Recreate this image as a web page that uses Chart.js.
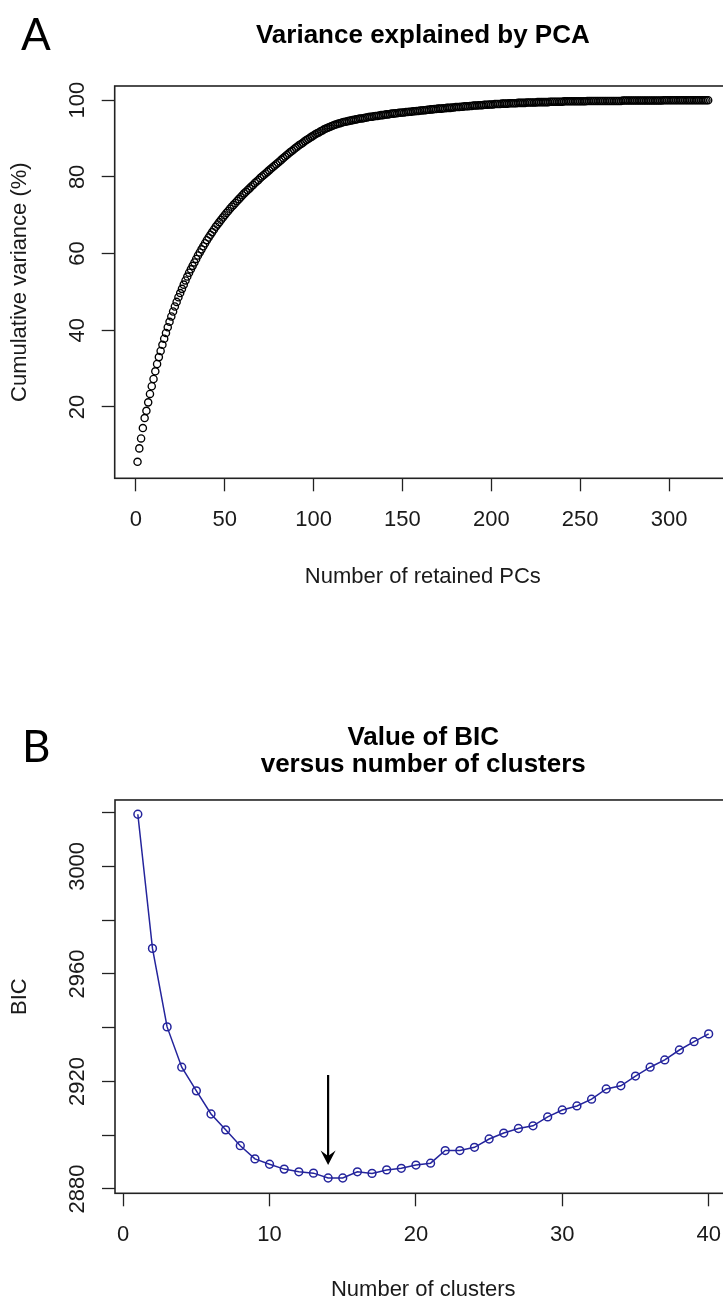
<!DOCTYPE html>
<html>
<head>
<meta charset="utf-8">
<script src="https://cdn.jsdelivr.net/npm/chart.js@4.4.1/dist/chart.umd.min.js"></script>
<style>
  html, body { margin: 0; padding: 0; background: #fff; }
  body { position: relative; width: 723px; height: 1304px; overflow: hidden; }
  canvas { position: absolute; left: 0; }
  .panel-tag { position: absolute; font-family: Lato, "Open Sans", sans-serif; font-size: 44px; line-height: 1; color: #000; }
</style>
</head>
<body>
<canvas id="pca-chart" width="740" height="640" style="top:0"></canvas>
<canvas id="bic-chart" width="740" height="664" style="top:640px"></canvas>
<div class="panel-tag" style="left:21px; top:11px">A</div>
<div class="panel-tag" style="left:22px; top:723px">B</div>
<script>
// ---------- data ----------
// cumulative variance (%) kept by the first k principal components, k = 1..322
const cumVariance = [
  5.7, 9.2, 11.8, 14.5, 17.1, 19.0, 21.2, 23.4, 25.4, 27.3,
  29.3, 31.2, 33.0, 34.6, 36.2, 37.8, 39.3, 40.8, 42.2, 43.6,
  44.9, 46.2, 47.4, 48.6, 49.7, 50.8, 51.9, 53.0, 54.0, 55.0,
  55.9, 56.8, 57.7, 58.6, 59.5, 60.3, 61.1, 61.9, 62.7, 63.5,
  64.2, 64.9, 65.6, 66.3, 67.0, 67.6, 68.2, 68.8, 69.4, 70.0,
  70.6, 71.1, 71.7, 72.2, 72.7, 73.2, 73.7, 74.2, 74.7, 75.2,
  75.7, 76.1, 76.6, 77.0, 77.5, 77.9, 78.4, 78.8, 79.2, 79.7,
  80.1, 80.5, 80.9, 81.3, 81.7, 82.1, 82.5, 82.9, 83.3, 83.7,
  84.1, 84.5, 84.9, 85.3, 85.7, 86.1, 86.5, 86.8, 87.2, 87.6,
  87.9, 88.3, 88.6, 88.9, 89.3, 89.6, 89.9, 90.2, 90.5, 90.8,
  91.1, 91.4, 91.6, 91.9, 92.1, 92.4, 92.6, 92.8, 93.0, 93.2,
  93.4, 93.6, 93.7, 93.9, 94.0, 94.2, 94.3, 94.4, 94.5, 94.6,
  94.7, 94.8, 94.9, 95.0, 95.1, 95.2, 95.2, 95.3, 95.4, 95.5,
  95.6, 95.7, 95.7, 95.8, 95.9, 95.9, 96.0, 96.1, 96.1, 96.2,
  96.3, 96.3, 96.4, 96.5, 96.5, 96.6, 96.6, 96.7, 96.7, 96.8,
  96.8, 96.9, 96.9, 97.0, 97.0, 97.1, 97.1, 97.2, 97.2, 97.3,
  97.3, 97.4, 97.4, 97.5, 97.5, 97.6, 97.6, 97.7, 97.7, 97.8,
  97.8, 97.8, 97.9, 97.9, 98.0, 98.0, 98.0, 98.1, 98.1, 98.2,
  98.2, 98.2, 98.3, 98.3, 98.4, 98.4, 98.4, 98.5, 98.5, 98.6,
  98.6, 98.6, 98.7, 98.7, 98.7, 98.8, 98.8, 98.8, 98.9, 98.9,
  98.9, 99.0, 99.0, 99.0, 99.0, 99.1, 99.1, 99.1, 99.1, 99.2,
  99.2, 99.2, 99.2, 99.2, 99.3, 99.3, 99.3, 99.3, 99.3, 99.4,
  99.4, 99.4, 99.4, 99.4, 99.4, 99.5, 99.5, 99.5, 99.5, 99.5,
  99.5, 99.5, 99.6, 99.6, 99.6, 99.6, 99.6, 99.6, 99.6, 99.6,
  99.7, 99.7, 99.7, 99.7, 99.7, 99.7, 99.7, 99.7, 99.7, 99.7,
  99.7, 99.7, 99.7, 99.8, 99.8, 99.8, 99.8, 99.8, 99.8, 99.8,
  99.8, 99.8, 99.8, 99.8, 99.8, 99.8, 99.8, 99.8, 99.8, 99.8,
  99.8, 99.8, 99.8, 99.9, 99.9, 99.9, 99.9, 99.9, 99.9, 99.9,
  99.9, 99.9, 99.9, 99.9, 99.9, 99.9, 99.9, 99.9, 99.9, 99.9,
  99.9, 99.9, 99.9, 99.9, 99.9, 99.9, 100.0, 100.0, 100.0, 100.0,
  100.0, 100.0, 100.0, 100.0, 100.0, 100.0, 100.0, 100.0, 100.0, 100.0,
  100.0, 100.0, 100.0, 100.0, 100.0, 100.0, 100.0, 100.0, 100.0, 100.0,
  100.0, 100.0
];
const pcaXTicks = [0, 50, 100, 150, 200, 250, 300];
const pcaYTicks = [20, 40, 60, 80, 100];
const pcaYLabels = ['20', '40', '60', '80', '100'];

// BIC for k = 1..40 clusters
const bicValues = [
  3019.4, 2969.5, 2940.3, 2925.3, 2916.5, 2907.9, 2902.0, 2896.1, 2891.2, 2889.2,
  2887.4, 2886.4, 2885.9, 2884.1, 2884.1, 2886.4, 2885.8, 2887.1, 2887.7, 2888.9,
  2889.6, 2894.3, 2894.3, 2895.5, 2898.6, 2900.8, 2902.5, 2903.5, 2906.8, 2909.4,
  2910.9, 2913.4, 2917.2, 2918.4, 2922.0, 2925.3, 2928.0, 2931.7, 2934.8, 2937.7
];
const bicXTicks = [0, 10, 20, 30, 40];
const bicYTicks = [2880, 2900, 2920, 2940, 2960, 2980, 3000, 3020];
const bicYLabels = ['2880', '', '2920', '', '2960', '', '3000', ''];

// arrow pointing at the chosen number of clusters (data coordinates)
const minArrow = { x: 14, from: 2922.4, to: 2888.9 };

// ---------- shared look ----------
const INK = '#1a1a1a';
const FONT = '"Liberation Sans", Arial, Helvetica, sans-serif';
Chart.defaults.font.family = FONT;
Chart.defaults.color = INK;

// R-style frame around the plotting region
const frameBox = {
  id: 'frameBox',
  afterDraw(chart) {
    const { ctx, chartArea: a } = chart;
    ctx.save();
    ctx.strokeStyle = '#222';
    ctx.lineWidth = 1.6;
    ctx.strokeRect(a.left, a.top, a.right - a.left, a.bottom - a.top);
    ctx.restore();
  }
};

// y tick labels written parallel to the axis (reading upward)
function verticalYLabels(labels) {
  return {
    id: 'verticalYLabels',
    afterDraw(chart) {
      const { ctx } = chart;
      const ys = chart.scales.y;
      const baseX = ys.right - 31;
      ctx.save();
      ctx.font = '22px ' + FONT;
      ctx.fillStyle = INK;
      ctx.textAlign = 'center';
      ctx.textBaseline = 'alphabetic';
      ys.ticks.forEach((t, i) => {
        if (!labels[i]) return;
        ctx.save();
        ctx.translate(baseX, ys.getPixelForValue(t.value));
        ctx.rotate(-Math.PI / 2);
        ctx.fillText(labels[i], 0, 0);
        ctx.restore();
      });
      ctx.restore();
    }
  };
}

function axisGrid() {
  return { display: true, drawOnChartArea: false, drawTicks: true, tickLength: 13, tickColor: '#222', tickWidth: 1.3 };
}

function xAxis(min, max, tickValues, title, height, titlePad) {
  return {
    type: 'linear', min: min, max: max,
    afterBuildTicks: s => { s.ticks = tickValues.map(v => ({ value: v })); },
    afterFit: s => { s.height = height; },
    grid: axisGrid(),
    border: { display: false },
    ticks: { autoSkip: false, maxRotation: 0, padding: 15, font: { size: 22 }, color: INK },
    title: { display: true, text: title, font: { size: 22 }, color: INK, padding: { top: 0, bottom: titlePad } }
  };
}

function yAxis(min, max, tickValues, title, width) {
  return {
    type: 'linear', min: min, max: max,
    afterBuildTicks: s => { s.ticks = tickValues.map(v => ({ value: v })); },
    afterFit: s => { s.width = width; },
    grid: axisGrid(),
    border: { display: false },
    ticks: { display: false },
    title: { display: true, text: title, font: { size: 22 }, color: INK, padding: { top: 7, bottom: 0 } }
  };
}

// ---------- A: cumulative variance ----------
new Chart(document.getElementById('pca-chart'), {
  type: 'scatter',
  data: {
    datasets: [{
      data: cumVariance.map((v, i) => ({ x: i + 1, y: v })),
      pointStyle: 'circle',
      pointRadius: 3.6,
      pointBorderWidth: 1.35,
      borderColor: '#000',
      backgroundColor: 'rgba(0,0,0,0)'
    }]
  },
  options: {
    responsive: false, animation: false, devicePixelRatio: 1, events: [],
    layout: { padding: { left: 0, right: 9, top: 0, bottom: 0 } },
    plugins: {
      legend: { display: false },
      tooltip: { enabled: false },
      title: {
        display: true, fullSize: false, text: 'Variance explained by PCA', color: '#000',
        font: { size: 26, weight: 'bold', lineHeight: 1.2 },
        padding: { top: 20.4, bottom: 34.4 }
      }
    },
    scales: {
      x: xAxis(-11.84, 334.84, pcaXTicks, 'Number of retained PCs', 161.7, 49.8),
      y: yAxis(1.4, 103.7, pcaYTicks, 'Cumulative variance (%)', 114.7)
    }
  },
  plugins: [frameBox, verticalYLabels(pcaYLabels)]
});

// ---------- B: BIC against number of clusters ----------
const arrowMark = {
  id: 'arrowMark',
  afterDatasetsDraw(chart) {
    const { ctx } = chart;
    const px = chart.scales.x.getPixelForValue(minArrow.x);
    const y0 = chart.scales.y.getPixelForValue(minArrow.from);
    const y1 = chart.scales.y.getPixelForValue(minArrow.to);
    ctx.save();
    ctx.strokeStyle = '#000';
    ctx.fillStyle = '#000';
    ctx.lineWidth = 2.2;
    ctx.beginPath();
    ctx.moveTo(px, y0);
    ctx.lineTo(px, y1 - 8);
    ctx.stroke();
    ctx.beginPath();
    ctx.moveTo(px, y1);
    ctx.lineTo(px - 7.5, y1 - 14.5);
    ctx.lineTo(px, y1 - 9);
    ctx.lineTo(px + 7.5, y1 - 14.5);
    ctx.closePath();
    ctx.fill();
    ctx.restore();
  }
};

const BLUE = '#24249c';
new Chart(document.getElementById('bic-chart'), {
  type: 'line',
  data: {
    datasets: [{
      data: bicValues.map((v, i) => ({ x: i + 1, y: v })),
      borderColor: BLUE,
      borderWidth: 1.5,
      tension: 0,
      fill: false,
      pointStyle: 'circle',
      pointRadius: 3.9,
      pointBorderWidth: 1.5,
      pointBorderColor: BLUE,
      pointBackgroundColor: 'rgba(0,0,0,0)'
    }]
  },
  options: {
    responsive: false, animation: false, devicePixelRatio: 1, events: [],
    layout: { padding: { left: 0, right: 8.5, top: 0, bottom: 0 } },
    plugins: {
      legend: { display: false },
      tooltip: { enabled: false },
      title: {
        display: true, fullSize: false, text: ['Value of BIC', 'versus number of clusters'], color: '#000',
        font: { size: 26, weight: 'bold', lineHeight: 1.04 },
        padding: { top: 84.5, bottom: 21.4 }
      }
    },
    scales: {
      x: xAxis(-0.56, 41.56, bicXTicks, 'Number of clusters', 110.7, 0.8),
      y: yAxis(2878.4, 3024.7, bicYTicks, 'BIC', 115)
    }
  },
  plugins: [frameBox, verticalYLabels(bicYLabels), arrowMark]
});
</script>
</body>
</html>
